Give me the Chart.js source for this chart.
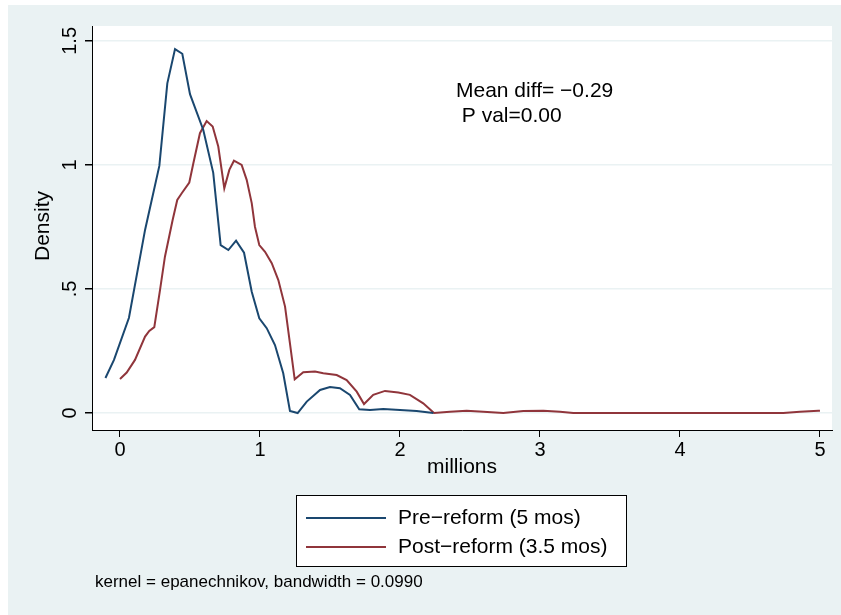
<!DOCTYPE html>
<html>
<head>
<meta charset="utf-8">
<script src="https://cdn.jsdelivr.net/npm/chart.js@4"></script>
<style>
  html, body { margin: 0; padding: 0; background: #ffffff; }
  #wrap { width: 841px; height: 615px; }
</style>
</head>
<body>
<div id="wrap"><canvas id="kd" width="841" height="615"></canvas></div>
<script>
// kernel density, pre-reform (5 mos)
var preX = [-0.104, -0.043, 0.064, 0.179, 0.281, 0.338, 0.393, 0.445, 0.5, 0.595, 0.666, 0.719, 0.774, 0.829,
  0.886, 0.941, 0.995, 1.048, 1.107, 1.166, 1.214, 1.269, 1.334, 1.429, 1.5, 1.571, 1.643, 1.709, 1.786,
  1.881, 2.0, 2.119, 2.238];
var preY = [0.141, 0.214, 0.384, 0.738, 0.996, 1.329, 1.467, 1.448, 1.285, 1.141, 0.968, 0.677, 0.657, 0.695,
  0.646, 0.489, 0.382, 0.342, 0.274, 0.160, 0.008, 0.0, 0.046, 0.093, 0.105, 0.100, 0.073, 0.015, 0.012,
  0.016, 0.012, 0.008, 0.0];
// kernel density, post-reform (3.5 mos)
var postX = [0, 0.048, 0.107, 0.179, 0.209, 0.245, 0.286, 0.321, 0.376, 0.409, 0.441, 0.495, 0.524, 0.571,
  0.619, 0.662, 0.702, 0.745, 0.781, 0.814, 0.869, 0.905, 0.941, 0.964, 0.995, 1.036, 1.084, 1.131, 1.179,
  1.214, 1.248, 1.309, 1.393, 1.452, 1.548, 1.619, 1.691, 1.743, 1.809, 1.893, 1.988, 2.071, 2.166, 2.243,
  2.357, 2.476, 2.595, 2.738, 2.881, 3.024, 3.143, 3.238, 4.738, 4.857, 4.988, 5.0];
var postY = [0.137, 0.163, 0.214, 0.308, 0.331, 0.346, 0.496, 0.630, 0.778, 0.859, 0.886, 0.929, 1.007, 1.128,
  1.177, 1.155, 1.074, 0.906, 0.980, 1.017, 1.0, 0.940, 0.846, 0.751, 0.677, 0.650, 0.604, 0.536, 0.429,
  0.281, 0.136, 0.164, 0.167, 0.160, 0.153, 0.133, 0.086, 0.036, 0.073, 0.089, 0.083, 0.073, 0.039, 0.0,
  0.005, 0.009, 0.005, 0.0, 0.008, 0.009, 0.005, 0.0, 0.0, 0.005, 0.009, 0.009];

var seriesNames = ['Pre\u2212reform (5 mos)', 'Post\u2212reform (3.5 mos)'];
var seriesColors = ['#1a476f', '#90353b'];
var xTicks = [0, 1, 2, 3, 4, 5];
var yTicks = [0, 0.5, 1, 1.5];
var yTickLabels = ['0', '.5', '1', '1.5'];
var xTitle = 'millions';
var yTitle = 'Density';
var noteText = 'kernel = epanechnikov, bandwidth = 0.0990';
var statLines = ['Mean diff= \u22120.29', ' P val=0.00'];

var FONT = '"Liberation Sans", Arial, Helvetica, sans-serif';
var panelColor = '#eaf2f3';

function toPoints(xs, ys) {
  return xs.map(function (x, i) { return { x: x, y: ys[i] }; });
}

var decor = {
  id: 'decor',
  beforeDraw: function (chart) {
    var ctx = chart.ctx, a = chart.chartArea;
    ctx.save();
    ctx.fillStyle = '#ffffff';
    ctx.fillRect(0, 0, chart.width, chart.height);
    ctx.fillStyle = panelColor;
    ctx.fillRect(8, 5, chart.width - 8, chart.height - 5);
    ctx.fillStyle = '#ffffff';
    ctx.fillRect(a.left, a.top, a.right - a.left, a.bottom - a.top);
    ctx.restore();
  },
  afterDraw: function (chart) {
    var ctx = chart.ctx, a = chart.chartArea;
    var ys = chart.scales.y;
    ctx.save();
    ctx.fillStyle = '#000';
    // y tick labels, vertical like Stata
    ctx.font = '20px ' + FONT;
    ctx.textAlign = 'center';
    ctx.textBaseline = 'middle';
    yTicks.forEach(function (v, i) {
      var py = ys.getPixelForValue(v);
      ctx.save();
      ctx.translate(70, py);
      ctx.rotate(-Math.PI / 2);
      ctx.fillText(yTickLabels[i], 0, 0);
      ctx.restore();
    });
    // axis titles
    ctx.font = '21px ' + FONT;
    ctx.save();
    ctx.translate(43, 226);
    ctx.rotate(-Math.PI / 2);
    ctx.fillText(yTitle, 0, 0);
    ctx.restore();
    ctx.fillText(xTitle, (a.left + a.right) / 2, 467);

    // statistics text
    ctx.textAlign = 'left';
    ctx.fillText(statLines[0], 456, 91);
    ctx.fillText(statLines[1], 456, 116);

    // legend box
    ctx.fillStyle = '#ffffff';
    ctx.fillRect(296.5, 495.5, 330, 71);
    ctx.strokeStyle = '#000';
    ctx.lineWidth = 1;
    ctx.strokeRect(296.5, 495.5, 330, 71);
    var rows = [518, 547];
    rows.forEach(function (ry, i) {
      ctx.strokeStyle = seriesColors[i];
      ctx.lineWidth = 2;
      ctx.beginPath();
      ctx.moveTo(306, ry);
      ctx.lineTo(386, ry);
      ctx.stroke();
      ctx.fillStyle = '#000';
      ctx.fillText(seriesNames[i], 398, ry);
    });

    // note
    ctx.font = '17px ' + FONT;
    ctx.fillText(noteText, 95, 582);
    ctx.restore();
  }
};

new Chart(document.getElementById('kd'), {
  type: 'line',
  data: {
    datasets: [
      { label: seriesNames[0], data: toPoints(preX, preY), borderColor: seriesColors[0],
        borderWidth: 2, pointRadius: 0, tension: 0, fill: false },
      { label: seriesNames[1], data: toPoints(postX, postY), borderColor: seriesColors[1],
        borderWidth: 2, pointRadius: 0, tension: 0, fill: false }
    ]
  },
  options: {
    responsive: false,
    animation: false,
    events: [],
    layout: { padding: { left: 0, top: 26, right: 9, bottom: 140 } },
    plugins: { legend: { display: false }, tooltip: { enabled: false } },
    scales: {
      x: {
        type: 'linear',
        min: -0.2,
        max: 5.086,
        afterBuildTicks: function (s) { s.ticks = xTicks.map(function (v) { return { value: v }; }); },
        afterFit: function (s) { s.height = 45; },
        grid: { drawOnChartArea: false, drawTicks: true, tickLength: 7, tickColor: '#000' },
        border: { display: true, color: '#000', width: 1 },
        ticks: { color: '#000', padding: 1, maxRotation: 0, font: { family: FONT, size: 20 },
          callback: function (v) { return String(v); } }
      },
      y: {
        type: 'linear',
        min: -0.0685,
        max: 1.56,
        afterBuildTicks: function (s) { s.ticks = yTicks.map(function (v) { return { value: v }; }); },
        afterFit: function (s) { s.width = 92; },
        grid: { drawOnChartArea: true, color: '#eaf2f3', lineWidth: 1.5, drawTicks: true, tickLength: 7, tickColor: '#000' },
        border: { display: true, color: '#000', width: 1 },
        ticks: { display: false }
      }
    }
  },
  plugins: [decor]
});
</script>
</body>
</html>
